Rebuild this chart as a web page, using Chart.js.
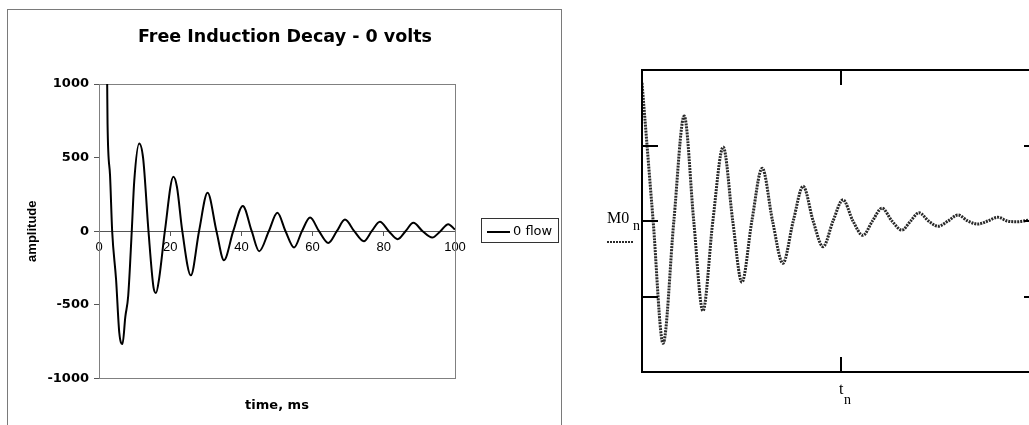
<!DOCTYPE html>
<html>
<head>
<meta charset="utf-8">
<script src="https://cdn.jsdelivr.net/npm/chart.js@4.4.1/dist/chart.umd.min.js"></script>
<style>
  html, body { margin: 0; padding: 0; background: #fff; overflow: hidden; width: 1029px; height: 425px; }
  canvas { position: absolute; top: 0; }
  #c1 { left: 0; }
  #c2 { left: 580px; }
</style>
</head>
<body>
<canvas id="c1" width="570" height="425"></canvas>
<canvas id="c2" width="480" height="425"></canvas>
<script>
// ---------- Left chart (spreadsheet plot) ----------
const chartTitle = 'Free Induction Decay - 0 volts';
const xAxisTitle = 'time, ms';
const yAxisTitle = 'amplitude';
const seriesLabel = '0 flow';
const xTickValues = [0, 20, 40, 60, 80, 100];
const yTickValues = [-1000, -500, 0, 500, 1000];

const fidTime = [2.3, 2.4, 3.1, 3.7, 4.8, 5.7, 6.6, 7.4, 8.2, 9.2, 9.9, 11.3, 12.4, 13.9, 15.3, 16.0, 16.9, 18.5,
  20.9, 21.9, 23.4, 25.8, 28.1, 30.5, 33.0, 35.1, 37.7, 40.4, 42.9, 45.0, 47.7, 50.1, 52.4, 54.8, 57.0,
  59.3, 61.8, 64.4, 66.8, 69.1, 71.7, 74.4, 76.6, 78.9, 81.4, 83.9, 86.1, 88.3, 90.9, 93.6, 95.9, 98.1, 100];
const fidAmplitude = [1000, 730, 380, 0, -330, -690, -766, -580, -440, 0, 340, 596, 494, 0, -380, -420, -320, 0,
  370, 300, 0, -300, 0, 261, 0, -197, 0, 172, 0, -136, 0, 125, 0, -111, 0,
  93, 0, -80, 0, 79, 0, -68, 0, 64, 0, -54, 0, 57, 0, -43, 0, 48, 11];

// ---------- Right chart (Mathcad-style plot) ----------
const mcTickX = [5];
const mcTickY = [-1, 0, 1];
const mcT = [0.00, 0.28, 0.53, 0.80, 1.06, 1.30, 1.53, 1.78, 2.04, 2.28, 2.51, 2.76, 3.02, 3.28, 3.54, 3.80,
  4.05, 4.30, 4.55, 4.80, 5.05, 5.30, 5.55, 5.79, 6.03, 6.28, 6.53, 6.75, 6.96, 7.20, 7.44, 7.69,
  7.94, 8.19, 8.44, 8.69, 8.94, 9.18, 9.42, 9.72, 10.0];
const mcM0 = [1.83, 0, -1.62, 0, 1.39, 0, -1.19, 0, 0.98, 0, -0.81, 0, 0.70, 0, -0.56, 0,
  0.46, 0, -0.34, 0, 0.28, 0, -0.19, 0, 0.17, 0, -0.12, 0, 0.11, 0, -0.07, 0,
  0.08, 0, -0.04, 0, 0.05, 0, -0.01, 0.01, 0.02];

const leftDecor = {
  id: 'leftDecor',
  beforeDraw(chart) {
    const ctx = chart.ctx;
    ctx.save();
    ctx.strokeStyle = '#7a7a7a';
    ctx.lineWidth = 1;
    ctx.strokeRect(7.5, 9.5, 554, 430);
    ctx.restore();
  },
  beforeDatasetsDraw(chart) {
    const a = chart.chartArea, ctx = chart.ctx;
    ctx.save();
    ctx.strokeStyle = '#808080';
    ctx.lineWidth = 1;
    ctx.strokeRect(Math.round(a.left) + 0.5, Math.round(a.top) + 0.5,
      Math.round(a.right - a.left), Math.round(a.bottom - a.top));
    ctx.restore();
  },
  afterDraw(chart) {
    const ctx = chart.ctx, ds = chart.data.datasets[0];
    const yMid = chart.scales.y.getPixelForValue(0);
    ctx.save();
    ctx.strokeStyle = '#333';
    ctx.lineWidth = 1;
    ctx.strokeRect(481.5, Math.round(yMid) - 12.5, 77, 24);
    ctx.strokeStyle = ds.borderColor;
    ctx.lineWidth = 2;
    ctx.beginPath();
    ctx.moveTo(487, Math.round(yMid) + 1);
    ctx.lineTo(510, Math.round(yMid) + 1);
    ctx.stroke();
    ctx.fillStyle = '#000';
    ctx.font = '13px "DejaVu Sans"';
    ctx.textBaseline = 'middle';
    ctx.textAlign = 'left';
    ctx.fillText(ds.label, 513, Math.round(yMid) + 1);
    ctx.restore();
  }
};

new Chart(document.getElementById('c1'), {
  type: 'line',
  data: {
    datasets: [{
      label: seriesLabel,
      data: fidTime.map((t, i) => ({ x: t, y: fidAmplitude[i] })),
      borderColor: '#000',
      borderWidth: 2,
      pointRadius: 0,
      fill: false,
      cubicInterpolationMode: 'monotone'
    }]
  },
  options: {
    responsive: false,
    animation: false,
    devicePixelRatio: 1,
    layout: { padding: { left: 0, right: 0, top: 0, bottom: 0 } },
    plugins: {
      legend: { display: false },
      tooltip: { enabled: false },
      title: {
        display: true, text: chartTitle, color: '#000',
        font: { family: 'DejaVu Sans', size: 17.5, weight: 'bold', lineHeight: 1.2 },
        padding: { top: 27, bottom: 36 }
      }
    },
    scales: {
      x: {
        type: 'linear', min: 0, max: 100, position: { y: 0 },
        afterBuildTicks: s => { s.ticks = xTickValues.map(v => ({ value: v })); },
        grid: { drawOnChartArea: false, drawTicks: true, tickLength: 4, color: '#555' },
        border: { display: true, color: '#555', width: 1 },
        ticks: { color: '#000', font: { family: 'Liberation Sans', size: 13 }, padding: 4, maxRotation: 0, autoSkip: false,
          callback: v => String(v) }
      },
      x2: {
        type: 'linear', axis: 'x', position: 'bottom', min: 0, max: 100,
        ticks: { display: false },
        grid: { display: false, drawTicks: false },
        border: { display: false },
        title: {
          display: true, text: xAxisTitle, color: '#000',
          font: { family: 'DejaVu Sans', size: 13, weight: 'bold', lineHeight: 1.2 },
          padding: { top: 19, bottom: 12 }
        }
      },
      y: {
        type: 'linear', min: -1000, max: 1000, position: 'left',
        afterBuildTicks: s => { s.ticks = yTickValues.map(v => ({ value: v })); },
        afterFit: s => { s.width = 99; },
        grid: { drawOnChartArea: false, drawTicks: true, tickLength: 5, color: '#555' },
        border: { display: true, color: '#555', width: 1 },
        ticks: { color: '#000', font: { family: 'DejaVu Sans', size: 13, weight: 'bold' }, padding: 5,
          callback: v => String(v) },
        title: {
          display: true, text: yAxisTitle, color: '#000',
          font: { family: 'Liberation Sans', size: 13, weight: 'bold', lineHeight: 1.2 },
          padding: { top: 25, bottom: 0 }
        }
      },
      yRight: {
        type: 'linear', axis: 'y', position: 'right', min: -1000, max: 1000,
        afterFit: s => { s.width = 115; },
        ticks: { display: false },
        grid: { display: false, drawTicks: false },
        border: { display: false }
      }
    }
  },
  plugins: [leftDecor]
});

const mcDecor = {
  id: 'mcDecor',
  afterDatasetsDraw(chart) {
    const a = chart.chartArea, ctx = chart.ctx;
    const xs = chart.scales.x, ys = chart.scales.y;
    const ds = chart.data.datasets[0];
    ctx.save();
    ctx.strokeStyle = '#000';
    ctx.lineWidth = 2;
    ctx.strokeRect(a.left, a.top, a.right - a.left, a.bottom - a.top);
    ctx.lineWidth = 2;
    ctx.beginPath();
    mcTickY.forEach(v => {
      const y = Math.round(ys.getPixelForValue(v));
      ctx.moveTo(a.left, y); ctx.lineTo(a.left + 16, y);
      ctx.moveTo(a.right, y); ctx.lineTo(a.right - 16, y);
    });
    mcTickX.forEach(v => {
      const x = Math.round(xs.getPixelForValue(v));
      ctx.moveTo(x, a.top); ctx.lineTo(x, a.top + 15);
      ctx.moveTo(x, a.bottom); ctx.lineTo(x, a.bottom - 15);
    });
    ctx.stroke();

    const y0 = ys.getPixelForValue(0);
    ctx.fillStyle = '#000';
    ctx.textAlign = 'left';
    ctx.textBaseline = 'alphabetic';
    ctx.font = '16px "Liberation Serif"';
    ctx.fillText('M0', a.left - 35, y0 + 2);
    ctx.font = '14px "Liberation Serif"';
    ctx.fillText('n', a.left - 9, y0 + 9);
    // trace sample under the y label
    ctx.strokeStyle = ds.borderColor;
    ctx.lineWidth = 2;
    ctx.setLineDash(ds.borderDash);
    ctx.beginPath();
    ctx.moveTo(a.left - 35, y0 + 21);
    ctx.lineTo(a.left - 8, y0 + 21);
    ctx.stroke();
    ctx.setLineDash([]);

    const xm = xs.getPixelForValue(5);
    ctx.font = '16px "Liberation Serif"';
    ctx.fillText('t', xm - 2, a.bottom + 22);
    ctx.font = '14px "Liberation Serif"';
    ctx.fillText('n', xm + 3, a.bottom + 32);
    ctx.restore();
  }
};

new Chart(document.getElementById('c2'), {
  type: 'line',
  data: {
    datasets: [{
      label: 'M0',
      data: mcT.map((t, i) => ({ x: t, y: mcM0[i] })),
      borderColor: '#2a2a2a',
      borderWidth: 3,
      borderDash: [2, 1],
      pointRadius: 0,
      fill: false,
      cubicInterpolationMode: 'monotone'
    }]
  },
  options: {
    responsive: false,
    animation: false,
    devicePixelRatio: 1,
    layout: { padding: { left: 62, top: 70, right: 20, bottom: 53 } },
    plugins: { legend: { display: false }, title: { display: false }, tooltip: { enabled: false } },
    scales: {
      x: { type: 'linear', min: 0, max: 10, display: false },
      y: { type: 'linear', min: -2, max: 2, display: false }
    }
  },
  plugins: [mcDecor]
});
</script>
</body>
</html>
